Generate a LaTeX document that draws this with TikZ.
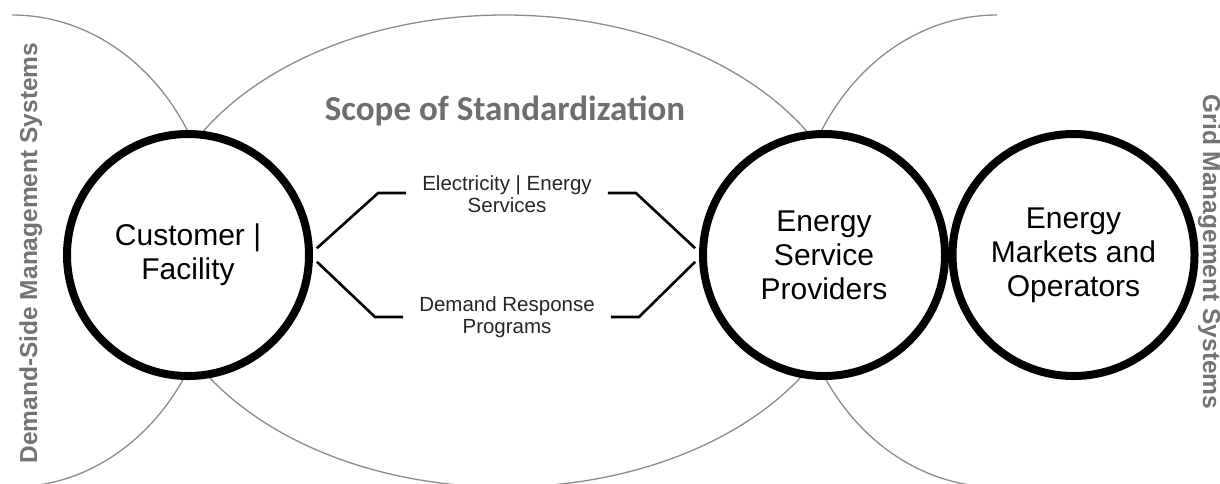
\documentclass[tikz,border=0pt]{standalone}
\usepackage{fontspec}
\setmainfont{Liberation Sans}
\newfontfamily\calib{Carlito}
\begin{document}
\begin{tikzpicture}[x=1pt,y=-1pt,
  arcline/.style={draw=black!45, line width=1.3pt},
  bigcirc/.style={circle, draw=black, line width=8pt, fill=white,
    minimum size=242pt, inner sep=0pt, outer sep=8pt, align=center,
    font=\fontsize{30}{34}\selectfont},
  conn/.style={draw=black, line width=2.6pt, line join=miter},
  flowlabel/.style={align=center, inner xsep=16pt, inner ysep=0pt,
    text=black!85, font=\fontsize{20.5}{22.5}\selectfont},
  sidetext/.style={text=black!55, font=\bfseries\fontsize{24.5}{28}\selectfont, anchor=base, inner sep=0pt}
]
\useasboundingbox (0,0) rectangle (1220,483);
\fill[white] (0,0) rectangle (1220,483);
% scope ellipses
\begin{scope}
  \clip (0,0) rectangle (1220,483);
  \draw[arcline] (505,251) ellipse [x radius=350pt, y radius=236pt];
  \draw[arcline] (12,15) arc[start angle=90, end angle=-90, x radius=204pt, y radius=236pt];
  \draw[arcline] (997,15) arc[start angle=90, end angle=270, x radius=204pt, y radius=236pt];
\end{scope}
% circles
\node[bigcirc] (cust) at (188,255) {Customer |\\Facility};
\node[bigcirc] (esp) at (824,255) {Energy\\Service\\Providers};
\node[bigcirc] (emo) at (1073.5,255) {Energy\\Markets and\\Operators};
% labels
\node[flowlabel] (elec) at (507,194) {Electricity | Energy\\Services};
\node[flowlabel] (dr) at (507,317) {Demand Response\\Programs};
% connectors
\draw[conn] (cust.3) -- ([xshift=-28pt,yshift=1pt]elec.west) -- ([yshift=1pt]elec.west);
\draw[conn] ([yshift=1pt]elec.east) -- ([xshift=28pt,yshift=1pt]elec.east) -- (esp.177);
\draw[conn] (cust.-3.5) -- ([xshift=-28pt]dr.west) -- (dr.west);
\draw[conn] (dr.east) -- ([xshift=28pt]dr.east) -- (esp.183.5);
% titles
\node[anchor=base, text=black!57, inner sep=0pt, font=\calib\bfseries\fontsize{35}{40}\selectfont] (scope) at (505,120) {Scope of Standardization};
\node[sidetext, rotate=90] (dsm) at (37,253) {Demand-Side Management Systems};
\node[sidetext, rotate=-90] (gms) at (1203,252) {Grid Management Systems};
\end{tikzpicture}
\end{document}
